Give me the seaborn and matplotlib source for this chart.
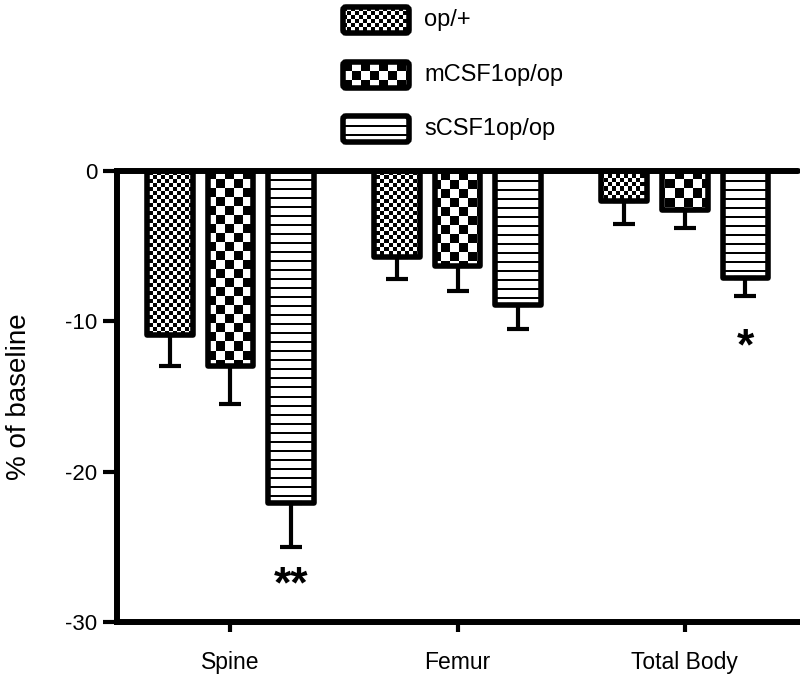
import numpy as np
import pandas as pd
import matplotlib
matplotlib.use("Agg")
import matplotlib.pyplot as plt
import seaborn as sns
from matplotlib.patches import FancyBboxPatch

# data
sites = ["Spine", "Femur", "Total Body"]
groups = ["op/+", "mCSF1op/op", "sCSF1op/op"]
op_plus = [-10.9, -5.7, -2.0]
mcsf1 = [-13.0, -6.3, -2.6]
scsf1 = [-22.1, -8.9, -7.1]
op_plus_err = [2.1, 1.5, 1.5]
mcsf1_err = [2.5, 1.7, 1.2]
scsf1_err = [2.9, 1.6, 1.2]
stars = {("Total Body", "sCSF1op/op"): ("*", -11.8), ("Spine", "sCSF1op/op"): ("**", -27.6)}

sns.set_style("ticks")
plt.rcParams["font.family"] = ["Liberation Sans", "DejaVu Sans"]
plt.rcParams["axes.unicode_minus"] = False
for k in ["text.color", "axes.edgecolor", "axes.labelcolor", "xtick.color", "ytick.color"]:
    plt.rcParams[k] = "black"

df = pd.DataFrame({
    "site": sites * 3,
    "group": np.repeat(groups, 3),
    "value": op_plus + mcsf1 + scsf1,
    "err": op_plus_err + mcsf1_err + scsf1_err,
})

W, H = 800, 680
fig = plt.figure(figsize=(W / 100, H / 100), dpi=100)
ax_box = [0.146, 0.0853, 0.852, 0.6632]
ax = fig.add_axes(ax_box)


def texture(kind, w, h):
    yy, xx = np.indices((h, w))
    if kind == "fine":
        return (xx // 4 + yy // 4) % 2
    if kind == "coarse":
        return (xx // 9 + yy // 9) % 2
    return (yy % 9 >= 2).astype(int)


kinds = ["fine", "coarse", "lines"]

sns.barplot(data=df, x="site", y="value", hue="group", order=sites, hue_order=groups,
            palette=["white"] * 3, edgecolor="black", linewidth=4, gap=0.25,
            errorbar=None, legend=False, ax=ax)

xlim = (-0.5, 2.5)
ylim = (-30, 0)
pw, ph = int(round(ax_box[2] * W)), int(round(ax_box[3] * H))

for gi, (g, cont) in enumerate(zip(groups, ax.containers)):
    tex = texture(kinds[gi], pw, ph)
    sub = df[df["group"] == g].set_index("site").loc[sites]
    for bar, site in zip(cont, sites):
        bar.set_facecolor("none")
        bar.set_joinstyle("round")
        bar.set_zorder(3)
        im = ax.imshow(tex, extent=(*xlim, *ylim), aspect="auto", cmap="gray",
                       vmin=0, vmax=1, interpolation="nearest", zorder=2)
        im.set_clip_path(bar)
        xc = bar.get_x() + bar.get_width() / 2
        val = sub.loc[site, "value"]
        err = sub.loc[site, "err"]
        ax.errorbar(xc, val, yerr=[[err], [0]], fmt="none", ecolor="black",
                    elinewidth=3, capsize=8, capthick=3, zorder=4)
        if (site, g) in stars:
            s, yy = stars[(site, g)]
            ax.text(xc, yy, s, ha="center", va="center", fontsize=32, fontweight="bold")

ax.set_xlim(*xlim)
ax.set_ylim(*ylim)
ax.set_yticks([0, -10, -20, -30])
ax.axhline(0, color="black", lw=4.3, clip_on=False, zorder=5)
sns.despine(ax=ax)
for s in ["left", "bottom"]:
    ax.spines[s].set_linewidth(4.3)
ax.tick_params(axis="y", length=10, width=3, labelsize=16, pad=4)
ax.tick_params(axis="x", length=7, width=3, labelsize=16.5, pad=14)
ax.set_xlabel("")
ax.set_ylabel("% of baseline", fontsize=20)
ax.yaxis.set_label_coords(-0.125, 0.5)

# legend drawn in pixel coordinates above the axes
lax = fig.add_axes([0, 0.75, 1, 0.25])
lax.set_xlim(0, W)
lax.set_ylim(170, 0)
lax.axis("off")
for gi, (g, cy) in enumerate(zip(groups, [20, 75, 129])):
    x0, x1, hh = 343, 409, 13
    box = FancyBboxPatch((x0, cy - hh), x1 - x0, 2 * hh, boxstyle="round,pad=0,rounding_size=3",
                         facecolor="none", edgecolor="black", lw=4, zorder=3)
    lax.add_patch(box)
    im = lax.imshow(texture(kinds[gi], x1 - x0, 2 * hh), extent=(x0, x1, cy + hh, cy - hh),
                    aspect="auto", cmap="gray", vmin=0, vmax=1, interpolation="nearest", zorder=2)
    im.set_clip_path(box)
    lax.text(424, cy, g, va="center", ha="left", fontsize=17)
lax.set_xlim(0, W)
lax.set_ylim(170, 0)

fig.savefig("out.png", dpi=100)
